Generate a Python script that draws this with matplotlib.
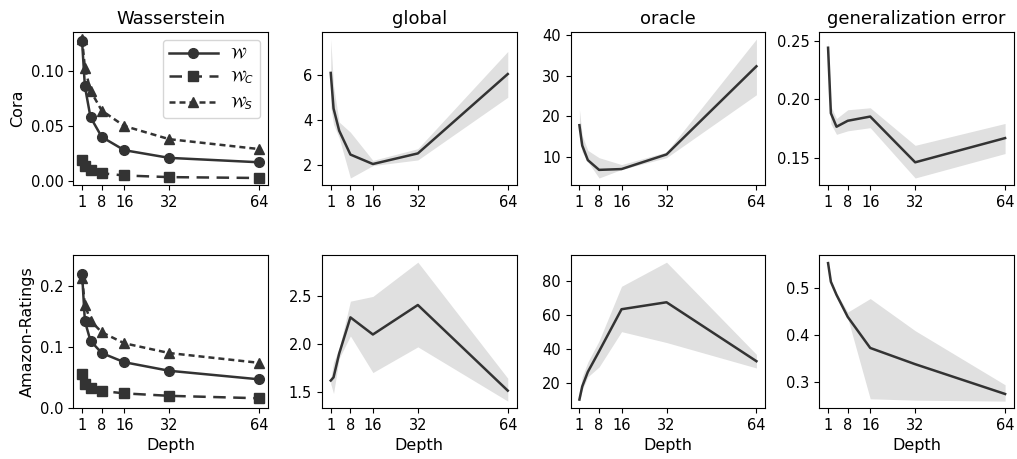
import matplotlib
matplotlib.use('Agg')
import matplotlib.pyplot as plt
import numpy as np

depth = [1, 2, 4, 8, 16, 32, 64]
xticks = [1, 8, 16, 32, 64]
datasets = ['Cora', 'Amazon-Ratings']
metrics = ['global', 'oracle', 'generalization error']

# Wasserstein distances
cora_w = [0.127, 0.086, 0.058, 0.040, 0.028, 0.021, 0.017]
cora_wc = [0.019, 0.014, 0.010, 0.007, 0.005, 0.0035, 0.0027]
cora_ws = [0.129, 0.103, 0.082, 0.064, 0.050, 0.038, 0.029]
amz_w = [0.220, 0.142, 0.110, 0.090, 0.075, 0.061, 0.047]
amz_wc = [0.055, 0.040, 0.033, 0.028, 0.024, 0.020, 0.016]
amz_ws = [0.212, 0.169, 0.143, 0.124, 0.106, 0.090, 0.074]

# mean / lower / upper for the other metrics
cora_global = [6.08, 4.5, 3.52, 2.46, 2.04, 2.51, 6.03]
cora_global_lo = [4.6, 3.8, 3.2, 1.42, 1.97, 2.22, 5.0]
cora_global_hi = [7.58, 5.5, 3.9, 3.45, 2.2, 2.72, 7.03]

cora_oracle = [17.8, 12.8, 9.2, 6.8, 7.0, 10.6, 32.3]
cora_oracle_lo = [14.4, 11.2, 8.8, 4.8, 6.9, 9.8, 25.3]
cora_oracle_hi = [21.7, 15.2, 11.6, 9.8, 8.1, 11.2, 39.0]

cora_gen = [0.244, 0.188, 0.1765, 0.1816, 0.1852, 0.1461, 0.1668]
cora_gen_lo = [0.239, 0.179, 0.170, 0.173, 0.1757, 0.1327, 0.1536]
cora_gen_hi = [0.2514, 0.194, 0.1835, 0.191, 0.1927, 0.1606, 0.1793]

amz_global = [1.616, 1.65, 1.90, 2.28, 2.10, 2.41, 1.51]
amz_global_lo = [1.58, 1.48, 1.85, 2.085, 1.70, 1.97, 1.40]
amz_global_hi = [1.63, 1.81, 1.95, 2.45, 2.50, 2.86, 1.64]

amz_oracle = [10.4, 18.1, 26.7, 38.8, 63.6, 67.7, 33.0]
amz_oracle_lo = [9.5, 16.2, 23.8, 29.6, 50.4, 44.0, 29.0]
amz_oracle_hi = [12.3, 23.8, 32.5, 45.0, 77.1, 91.3, 37.0]

amz_gen = [0.554, 0.514, 0.486, 0.4386, 0.372, 0.3372, 0.2733]
amz_gen_lo = [0.552, 0.510, 0.480, 0.436, 0.263, 0.260, 0.258]
amz_gen_hi = [0.556, 0.516, 0.490, 0.449, 0.478, 0.409, 0.293]

wass = [(cora_w, cora_wc, cora_ws), (amz_w, amz_wc, amz_ws)]
curves = [
    [(cora_global, cora_global_lo, cora_global_hi),
     (cora_oracle, cora_oracle_lo, cora_oracle_hi),
     (cora_gen, cora_gen_lo, cora_gen_hi)],
    [(amz_global, amz_global_lo, amz_global_hi),
     (amz_oracle, amz_oracle_lo, amz_oracle_hi),
     (amz_gen, amz_gen_lo, amz_gen_hi)],
]

col = '#333333'
band = '#e0e0e0'

fig, axes = plt.subplots(2, 4, figsize=(10.17, 4.59), dpi=100)
fig.subplots_adjust(left=0.072, right=0.997, top=0.930, bottom=0.111,
                    wspace=0.277, hspace=0.46)

for r in range(2):
    ax = axes[r, 0]
    w, wc, ws = wass[r]
    ax.plot(depth, w, '-', marker='o', color=col, lw=1.8, ms=7, label=r'$\mathcal{W}$')
    ax.plot(depth, wc, '--', marker='s', color=col, lw=1.8, ms=7, dashes=(5, 3),
            label=r'$\mathcal{W}_C$')
    ax.plot(depth, ws, ':', marker='^', color=col, lw=1.8, ms=7, dashes=(2.4, 1.6),
            label=r'$\mathcal{W}_S$')
    ax.set_ylabel(datasets[r], fontsize=11.5)
    if r == 1:
        ax.set_ylim(0, 0.25)
        ax.set_yticks([0.0, 0.1, 0.2])
    else:
        ax.set_yticks([0.0, 0.05, 0.10])
        ax.legend(loc='upper right', handlelength=3.2, fontsize=11)

    for c in range(3):
        ax = axes[r, c + 1]
        m, lo, hi = curves[r][c]
        ax.fill_between(depth, lo, hi, color=band, lw=0)
        ax.plot(depth, m, color=col, lw=1.8)

for r in range(2):
    for c in range(4):
        ax = axes[r, c]
        ax.set_xticks(xticks)
        ax.tick_params(labelsize=10.5)
        if r == 0:
            ax.set_title((['Wasserstein'] + metrics)[c], fontsize=13)
        else:
            ax.set_xlabel('Depth', fontsize=11.5)

axes[0, 2].set_yticks([10, 20, 30, 40])
axes[1, 1].set_yticks([1.5, 2.0, 2.5])
axes[1, 2].set_yticks([20, 40, 60, 80])

fig.savefig('out.png', dpi=100)
